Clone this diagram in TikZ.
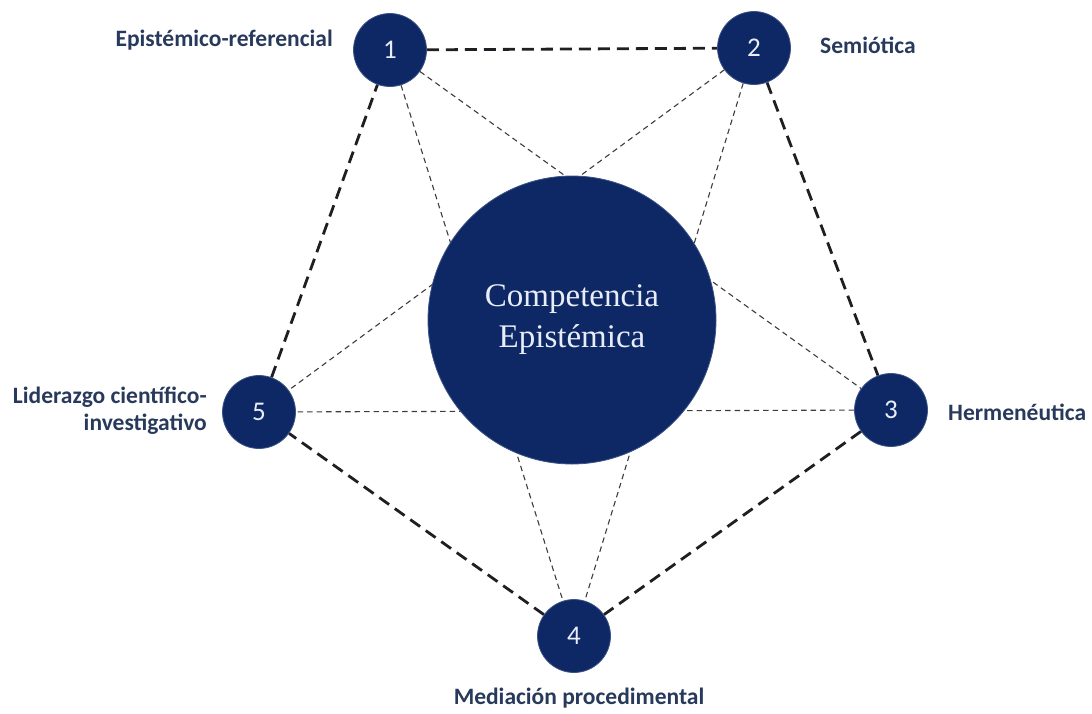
\documentclass[tikz,border=0pt]{standalone}
\usepackage{fontspec}
\setmainfont{Carlito}
\newfontfamily\serifcirc{Liberation Serif}
\usetikzlibrary{backgrounds}
\definecolor{navy}{RGB}{14,40,102}
\definecolor{labelcol}{RGB}{40,58,92}
\definecolor{linecol}{RGB}{30,30,35}
\definecolor{thincol}{RGB}{60,60,65}
\definecolor{numcol}{RGB}{232,238,248}
\tikzset{
  numnode/.style={circle,fill=navy,draw=navy!80,line width=0.8pt,minimum size=73pt,inner sep=0pt,
    text=numcol,font=\fontsize{27}{30}\selectfont},
  bignode/.style={circle,fill=navy,draw=navy!80,line width=0.8pt,minimum size=288pt,inner sep=0pt},
  bigtext/.style={text=numcol,align=center,font=\serifcirc\fontsize{33}{41}\selectfont},
  lbl/.style={text=labelcol,font=\bfseries\fontsize{23.5}{27}\selectfont,inner sep=0pt},
  outer/.style={draw=linecol,line width=2.8pt,dash pattern=on 12pt off 7pt},
  inner/.style={draw=thincol,line width=1.1pt,dash pattern=on 5.5pt off 4pt},
}
\begin{document}
\begin{tikzpicture}[x=1pt,y=-1pt]
\useasboundingbox (0,0) rectangle (1092,713);
\node[bignode] (c) at (572,320) {};
\node[bigtext] (ct) at (572,320) {Competencia\\Epistémica};
\node[numnode] (n1) at (390,50) {1};
\node[numnode] (n2) at (754,48) {2};
\node[numnode] (n3) at (891,410) {3};
\node[numnode] (n4) at (574,636) {4};
\node[numnode] (n5) at (259,412) {5};
\begin{scope}[on background layer]
\draw[outer] (n1) -- (n2);
\draw[outer] (n2) -- (n3);
\draw[outer] (n3) -- (n4);
\draw[outer] (n4) -- (n5);
\draw[outer] (n5) -- (n1);
\draw[inner] (n1) -- (n3);
\draw[inner] (n1) -- (n4);
\draw[inner] (n2) -- (n4);
\draw[inner] (n2) -- (n5);
\draw[inner] (n3) -- (n5);
\end{scope}
\node[lbl,anchor=east] (l1) at (333,40) {Epistémico-referencial};
\node[lbl,anchor=west] (l2) at (820,45) {Semiótica};
\node[lbl,anchor=west] (l3) at (948,412) {Hermenéutica};
\node[lbl] (l4) at (579,698) {Mediación procedimental};
\node[lbl,anchor=east,align=right] (l5) at (207,411) {Liderazgo científico-\\investigativo};
\end{tikzpicture}
\end{document}
